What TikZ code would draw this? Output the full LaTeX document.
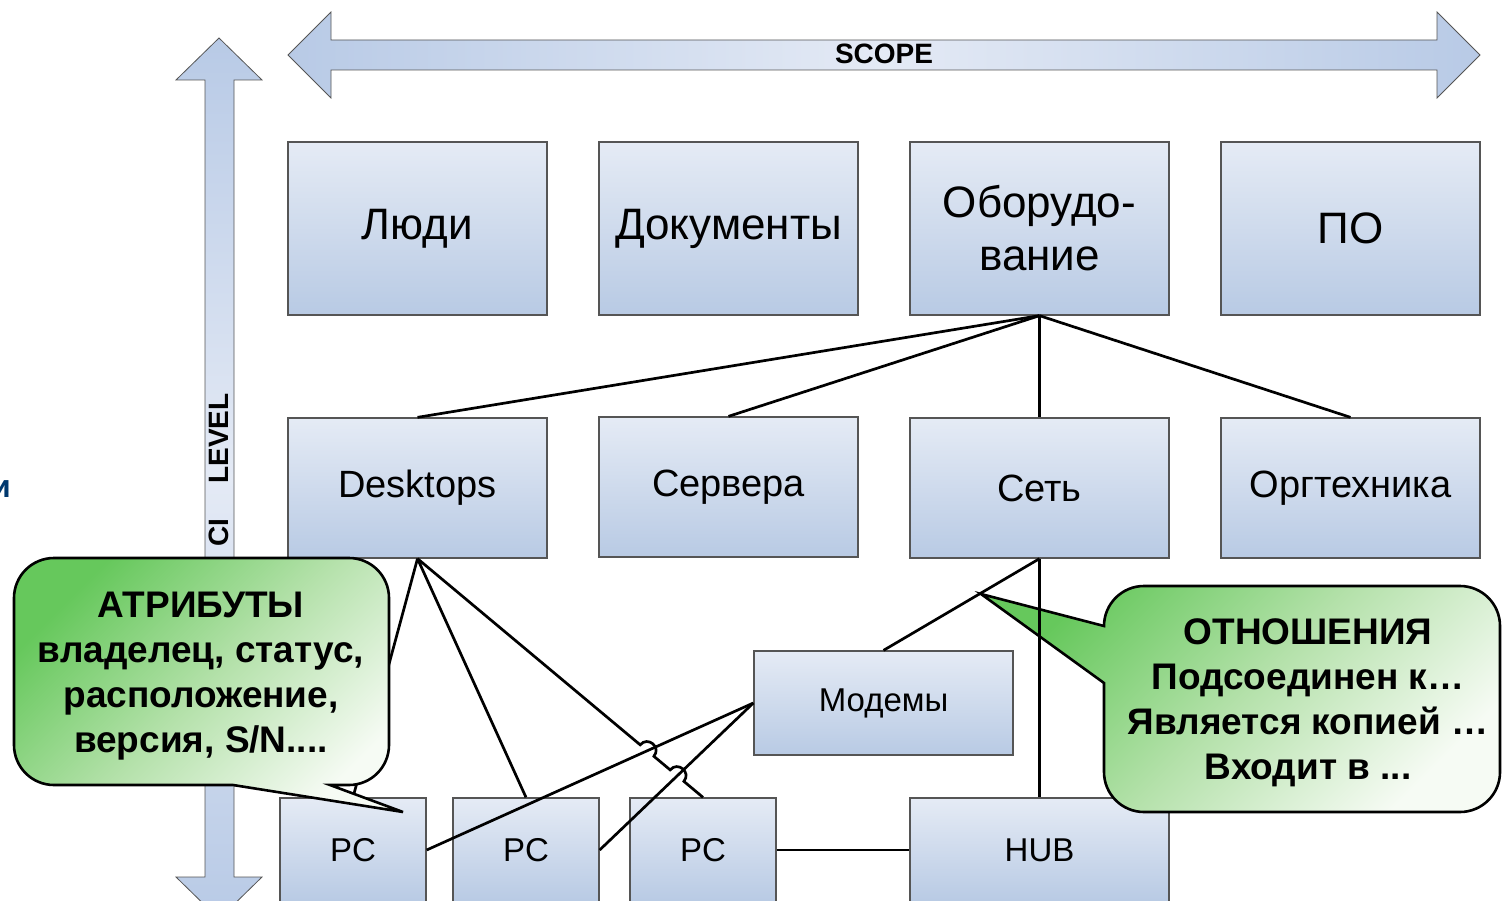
\documentclass[tikz,border=0pt]{standalone}
\usepackage{fontspec}
\setmainfont{Liberation Sans}
\usetikzlibrary{calc}
\definecolor{boxtop}{RGB}{229,235,245}
\definecolor{boxbot}{RGB}{184,202,228}
\definecolor{boxline}{RGB}{85,85,85}
\definecolor{arrend}{RGB}{184,202,230}
\definecolor{arrmid}{RGB}{228,234,245}
\definecolor{callG}{RGB}{102,200,92}
\definecolor{callM}{RGB}{180,225,170}
\definecolor{callW}{RGB}{246,251,244}
\definecolor{navy}{RGB}{0,56,110}
\begin{document}
\begin{tikzpicture}[x=1pt,y=-1pt,
 cibox/.style={draw=boxline, line width=1.3pt, top color=boxtop, bottom color=boxbot, inner sep=0pt, align=center},
 big/.style={cibox, minimum width=259pt, minimum height=173pt, font=\fontsize{44}{53}\selectfont},
 mid/.style={cibox, minimum width=259pt, minimum height=140pt, font=\fontsize{38}{44}\selectfont},
 pcbox/.style={cibox, minimum width=146pt, minimum height=104pt, font=\fontsize{33}{38}\selectfont},
 link/.style={line width=2.7pt, draw=black},
 bigarrow/.style={draw=boxline, line width=0.8pt},
 callout/.style={draw=black, line width=2.6pt, top color=callG, bottom color=callW, middle color=callM, shading angle=45},
 calltext/.style={font=\fontsize{37}{45}\selectfont\bfseries, align=center},
 arrtext/.style={font=\fontsize{28}{32}\selectfont\bfseries}
]
\useasboundingbox (0,0) rectangle (1503,901);
\clip (0,0) rectangle (1503,901);

% SCOPE arrow
\path[bigarrow, left color=arrend, right color=arrend, middle color=arrmid]
 (288,55) -- (331,12) -- (331,40) -- (1437,40) -- (1437,12) -- (1480,55)
 -- (1437,98) -- (1437,70) -- (331,70) -- (331,98) -- cycle;
\node[arrtext] (scope) at (884,54) {SCOPE};

% CI LEVEL arrow
\path[bigarrow, top color=arrend, bottom color=arrend, middle color=arrmid]
 (219,38) -- (262,80) -- (234,80) -- (234,877) -- (262,877) -- (219,919)
 -- (176,877) -- (205,877) -- (205,80) -- (176,80) -- cycle;
\node[arrtext, rotate=90] (cilevel) at (219,470) {CI\hspace{35pt}LEVEL};

% cut-off letter at left edge
\node[font=\fontsize{32}{36}\selectfont\bfseries, text=navy, anchor=east, inner sep=0pt] (cut) at (11,489) {и};

% boxes
\node[big] (ppl) at (417.5,228.5) {Люди};
\node[big] (doc) at (728.5,228.5) {Документы};
\node[big] (hw)  at (1039.5,228.5) {Оборудо-\\вание};
\node[big] (sw)  at (1350.5,228.5) {ПО};
\node[mid] (desk) at (417.5,488) {Desktops};
\node[mid] (srv)  at (728.5,487) {Сервера};
\node[mid] (net)  at (1039.5,488) {Сеть};
\node[mid] (off)  at (1350.5,488) {Оргтехника};
\node[cibox, minimum width=259pt, minimum height=104pt, font=\fontsize{33}{38}\selectfont] (mod) at (883.5,703) {Модемы};
\node[pcbox] (pc1) at (353,850) {PC};
\node[pcbox] (pc2) at (526,850) {PC};
\node[pcbox] (pc3) at (703,850) {PC};
\node[pcbox, minimum width=259pt] (hub) at (1039.5,850) {HUB};

% connectors
\draw[link] (hw.south) -- (desk.north);
\draw[link] (hw.south) -- (srv.north);
\draw[link] (hw.south) -- (net.north);
\draw[link] (hw.south) -- (off.north);
\draw[link] (desk.south) -- (pc1.north);
\draw[link] (desk.south) -- (pc2.north);
\draw[link] (desk.south) -- ($(desk.south)!0.780!(pc3.north)$)
  to[bend left=90, looseness=1.7] ($(desk.south)!0.828!(pc3.north)$)
  -- ($(desk.south)!0.885!(pc3.north)$)
  to[bend left=90, looseness=1.7] ($(desk.south)!0.933!(pc3.north)$)
  -- (pc3.north);
\draw[link] (net.south) -- (mod.north);
\draw[link] (mod.west) -- (pc1.east);
\draw[link] (mod.west) -- (pc2.east);
\draw[link] (pc3.east) -- (hub.west);

% left callout
\path[callout] (330,785) -- (349,785) arc (90:0:40) -- (389,598) arc (0:-90:40)
  -- (54,558) arc (-90:-180:40) -- (14,745) arc (180:90:40) -- (233,785)
  -- (403,812) -- cycle;
\node[calltext] (attr) at (201,676) {АТРИБУТЫ\\владелец, статус,\\расположение,\\версия, S/N....};

% right callout
\path[callout] (1104,683) -- (1104,772) arc (180:90:40) -- (1460,812) arc (90:0:40)
  -- (1500,626) arc (0:-90:40) -- (1144,586) arc (-90:-180:40)
  -- (981,594) -- cycle;
\node[calltext] (rel) at (1308,702.5) {ОТНОШЕНИЯ\\Подсоединен к…\\Является копией …\\Входит в ...};

\draw[link] (net.south) -- (hub.north);
\end{tikzpicture}
\end{document}
